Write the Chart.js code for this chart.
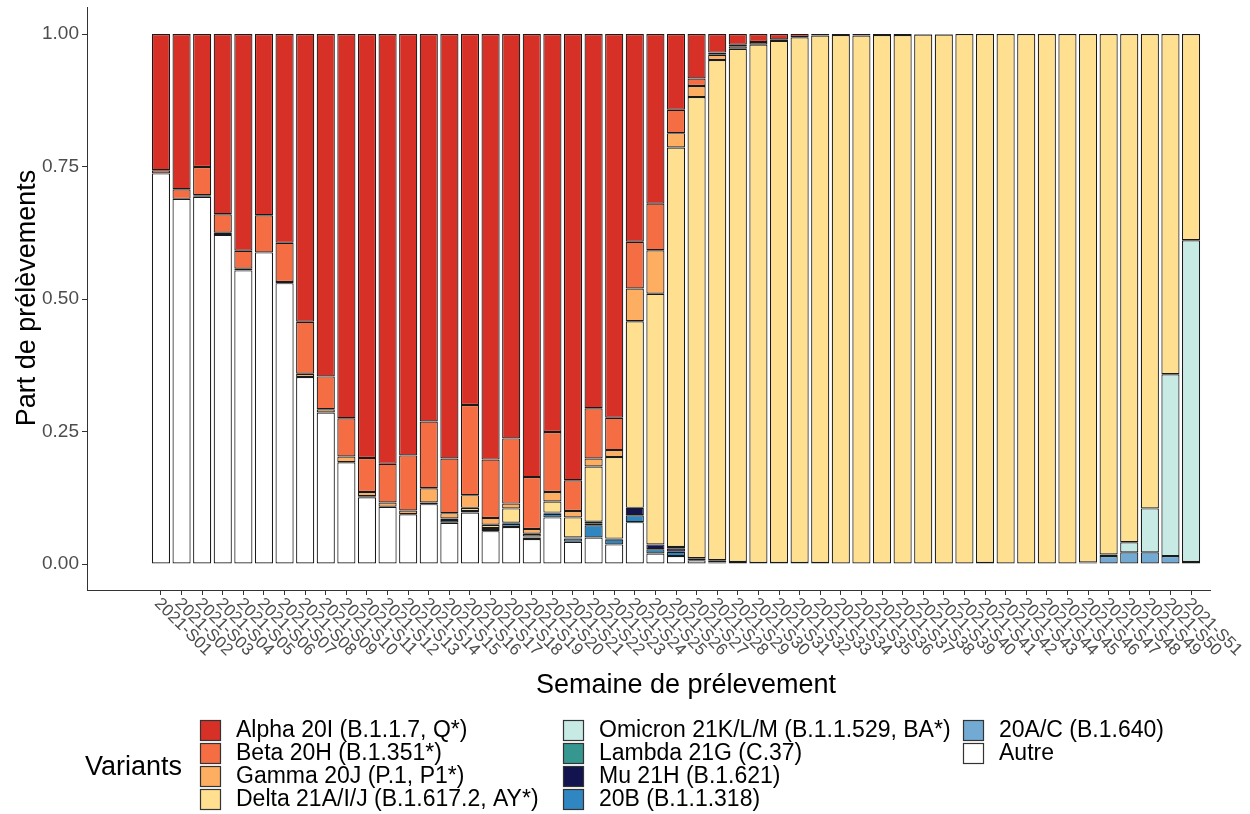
<!DOCTYPE html>
<html>
<head>
<meta charset="utf-8">
<script src="https://cdn.jsdelivr.net/npm/chart.js@4.4.1/dist/chart.umd.min.js"></script>
<style>
  html, body { margin: 0; padding: 0; background: #fff; }
  #wrap { width: 1250px; height: 814px; }
</style>
</head>
<body>
<div id="wrap"><canvas id="variantChart" width="1250" height="814"></canvas></div>
<script>
const weeks = ['2021-S01', '2021-S02', '2021-S03', '2021-S04', '2021-S05', '2021-S06', '2021-S07', '2021-S08', '2021-S09', '2021-S10',
    '2021-S11', '2021-S12', '2021-S13', '2021-S14', '2021-S15', '2021-S16', '2021-S17', '2021-S18', '2021-S19', '2021-S20',
    '2021-S21', '2021-S22', '2021-S23', '2021-S24', '2021-S25', '2021-S26', '2021-S27', '2021-S28', '2021-S29', '2021-S30',
    '2021-S31', '2021-S32', '2021-S33', '2021-S34', '2021-S35', '2021-S36', '2021-S37', '2021-S38', '2021-S39', '2021-S40',
    '2021-S41', '2021-S42', '2021-S43', '2021-S44', '2021-S45', '2021-S46', '2021-S47', '2021-S48', '2021-S49', '2021-S50',
    '2021-S51'];

// shares per week, bottom of the stack first
const autre   = [0.737, 0.689, 0.693, 0.621, 0.554, 0.588, 0.530, 0.353, 0.286, 0.192, 0.126, 0.108, 0.094, 0.113, 0.078, 0.097, 0.062, 0.070, 0.047, 0.088,
                 0.042, 0.050, 0.037, 0.079, 0.020, 0.015, 0.007, 0.003, 0.002, 0.002, 0.002, 0.002, 0.002, 0.001, 0, 0, 0, 0, 0, 0,
                 0.002, 0, 0, 0, 0, 0.003, 0, 0, 0, 0, 0.004];
const b1640   = [0, 0, 0, 0, 0, 0, 0, 0, 0, 0, 0, 0, 0, 0, 0, 0, 0, 0, 0, 0,
                 0, 0, 0, 0, 0, 0, 0, 0, 0, 0, 0, 0, 0, 0, 0, 0, 0, 0, 0, 0,
                 0, 0, 0, 0, 0, 0, 0.015, 0.022, 0.022, 0.015, 0];
const b20     = [0, 0, 0, 0, 0, 0, 0, 0, 0, 0, 0, 0, 0, 0, 0.005, 0, 0.004, 0.006, 0.003, 0.007,
                 0.006, 0.023, 0.009, 0.013, 0.008, 0.008, 0, 0, 0, 0, 0, 0, 0, 0, 0, 0, 0, 0, 0, 0,
                 0, 0, 0, 0, 0, 0, 0, 0, 0, 0, 0];
const mu      = [0, 0, 0, 0, 0, 0, 0, 0, 0, 0, 0.002, 0, 0, 0.003, 0.003, 0.003, 0.002, 0.002, 0.002, 0.002,
                 0.002, 0.004, 0.002, 0.014, 0.009, 0.006, 0.004, 0.004, 0.002, 0, 0, 0, 0, 0, 0, 0, 0, 0, 0, 0,
                 0, 0, 0, 0, 0, 0, 0.003, 0, 0, 0, 0];
const lambda  = [0, 0, 0, 0, 0, 0, 0, 0, 0, 0, 0, 0, 0, 0, 0, 0, 0, 0, 0, 0,
                 0, 0.003, 0, 0, 0, 0.003, 0, 0, 0, 0, 0, 0, 0, 0, 0, 0, 0, 0, 0, 0,
                 0, 0, 0, 0, 0, 0, 0, 0, 0, 0, 0];
const omicron = [0, 0, 0, 0, 0, 0, 0, 0, 0, 0, 0, 0, 0, 0, 0, 0, 0, 0, 0, 0,
                 0, 0, 0, 0, 0, 0, 0, 0, 0, 0, 0, 0, 0, 0, 0, 0, 0, 0, 0, 0,
                 0, 0, 0, 0, 0, 0, 0, 0.019, 0.083, 0.343, 0.607];
const delta   = [0, 0, 0, 0, 0, 0, 0, 0, 0, 0, 0, 0, 0, 0, 0, 0.006, 0.006, 0.027, 0.005, 0.021,
                 0.038, 0.104, 0.154, 0.352, 0.473, 0.754, 0.870, 0.944, 0.968, 0.978, 0.985, 0.992, 0.995, 0.997, 0.997, 0.998, 0.998, 0.999, 0.999, 1.000,
                 0.998, 1.000, 1.000, 1.000, 1.000, 0.997, 0.982, 0.959, 0.895, 0.642, 0.389];
const gamma   = [0, 0, 0.003, 0.004, 0.003, 0, 0.002, 0.006, 0.006, 0.011, 0.008, 0.008, 0.007, 0.027, 0.010, 0.024, 0.013, 0.009, 0.009, 0.018,
                 0.012, 0.015, 0.013, 0.062, 0.082, 0.027, 0.021, 0.010, 0.005, 0.005, 0, 0, 0, 0, 0, 0, 0, 0, 0, 0,
                 0, 0, 0, 0, 0, 0, 0, 0, 0, 0, 0];
const beta    = [0.006, 0.018, 0.053, 0.035, 0.034, 0.070, 0.074, 0.098, 0.062, 0.072, 0.064, 0.073, 0.104, 0.126, 0.103, 0.170, 0.110, 0.123, 0.098, 0.113,
                 0.058, 0.095, 0.061, 0.088, 0.088, 0.044, 0.014, 0.004, 0.003, 0, 0.003, 0, 0, 0, 0, 0, 0, 0, 0, 0,
                 0, 0, 0, 0, 0, 0, 0, 0, 0, 0, 0];
const alpha   = [0.257, 0.293, 0.251, 0.340, 0.409, 0.342, 0.394, 0.543, 0.646, 0.725, 0.800, 0.811, 0.795, 0.731, 0.801, 0.700, 0.803, 0.763, 0.836, 0.751,
                 0.842, 0.706, 0.724, 0.392, 0.320, 0.143, 0.084, 0.035, 0.020, 0.015, 0.010, 0.006, 0.003, 0.002, 0.003, 0.002, 0.002, 0.001, 0.001, 0,
                 0, 0, 0, 0, 0, 0, 0, 0, 0, 0, 0];

const yTicks = [0, 0.25, 0.5, 0.75, 1];

const FONT = "'Liberation Sans', Arial, sans-serif";

function series(label, values, color) {
    return {
        label: label,
        data: values.map((v, i) => ({ x: i, y: v })),
        backgroundColor: color,
        borderColor: '#1a1a1a',
        borderWidth: 1.2,
        borderSkipped: false,
        barPercentage: 0.88,
        categoryPercentage: 1
    };
}

// stack order: first dataset sits at the bottom
const datasets = [
    series('Autre', autre, '#ffffff'),
    series('20A/C (B.1.640)', b1640, '#72aad3'),
    series('20B (B.1.1.318)', b20, '#2f86c1'),
    series('Mu 21H (B.1.621)', mu, '#13134f'),
    series('Lambda 21G (C.37)', lambda, '#35978f'),
    series('Omicron 21K/L/M (B.1.1.529, BA*)', omicron, '#c7eae5'),
    series('Delta 21A/I/J (B.1.617.2, AY*)', delta, '#fee090'),
    series('Gamma 20J (P.1, P1*)', gamma, '#fdae61'),
    series('Beta 20H (B.1.351*)', beta, '#f46d43'),
    series('Alpha 20I (B.1.1.7, Q*)', alpha, '#d73027')
];

const extras = {
    id: 'extras',
    afterDraw(chart) {
        const ctx = chart.ctx;
        const xs = chart.scales.x;
        const ys = chart.scales.y;
        ctx.save();

        // y tick labels
        ctx.fillStyle = '#4d4d4d';
        ctx.font = '19px ' + FONT;
        ctx.textAlign = 'right';
        ctx.textBaseline = 'middle';
        yTicks.forEach(v => ctx.fillText(v.toFixed(2), 79, ys.getPixelForValue(v)));

        // rotated week labels
        ctx.font = '17px ' + FONT;
        ctx.textAlign = 'left';
        weeks.forEach((w, i) => {
            ctx.save();
            ctx.translate(xs.getPixelForValue(i) - 4, 601);
            ctx.rotate(Math.PI / 4);
            ctx.fillText(w, 0, 0);
            ctx.restore();
        });

        // axis titles
        ctx.fillStyle = '#000';
        ctx.font = '27px ' + FONT;
        ctx.textAlign = 'center';
        ctx.fillText('Semaine de prélevement', 686, 686);
        ctx.save();
        ctx.translate(28, 298);
        ctx.rotate(-Math.PI / 2);
        ctx.fillText('Part de prélèvements', 0, 0);
        ctx.restore();

        // legend, three columns, Alpha first
        ctx.textAlign = 'left';
        ctx.fillText('Variants', 85, 768);
        const order = chart.data.datasets.slice().reverse();
        const colX = [200, 563, 963];
        ctx.font = '23px ' + FONT;
        order.forEach((ds, k) => {
            const col = Math.floor(k / 4);
            const row = k % 4;
            const kx = colX[col];
            const ky = 720 + row * 23;
            ctx.fillStyle = ds.backgroundColor;
            ctx.fillRect(kx, ky, 21, 21);
            ctx.strokeStyle = '#333';
            ctx.lineWidth = 1.2;
            ctx.strokeRect(kx + 0.5, ky + 0.5, 20, 20);
            ctx.fillStyle = '#000';
            ctx.fillText(ds.label, kx + 36, ky + 11);
        });
        ctx.restore();
    }
};

const ctx = document.getElementById('variantChart').getContext('2d');
const variantChart = new Chart(ctx, {
    type: 'bar',
    data: { datasets: datasets },
    options: {
        responsive: false,
        animation: false,
        layout: { padding: { top: 7, right: 40, left: 0, bottom: 0 } },
        plugins: {
            legend: { display: false },
            tooltip: { enabled: false }
        },
        scales: {
            x: {
                type: 'linear',
                stacked: true,
                offset: false,
                min: -3.59,
                max: 50.92,
                afterBuildTicks: s => { s.ticks = weeks.map((w, i) => ({ value: i })); },
                afterFit: s => { s.height = 224; },
                ticks: { display: false },
                grid: { offset: false, drawOnChartArea: false, drawTicks: true, tickLength: 5, color: '#333', lineWidth: 1 },
                border: { display: true, color: '#333', width: 1 }
            },
            y: {
                type: 'linear',
                stacked: true,
                min: -0.049,
                max: 1.051,
                afterBuildTicks: s => { s.ticks = yTicks.map(v => ({ value: v })); },
                afterFit: s => { s.width = 87; },
                ticks: { display: false },
                grid: { drawOnChartArea: false, drawTicks: true, tickLength: 5, color: '#333', lineWidth: 1 },
                border: { display: true, color: '#333', width: 1 }
            }
        }
    },
    plugins: [extras]
});
</script>
</body>
</html>
